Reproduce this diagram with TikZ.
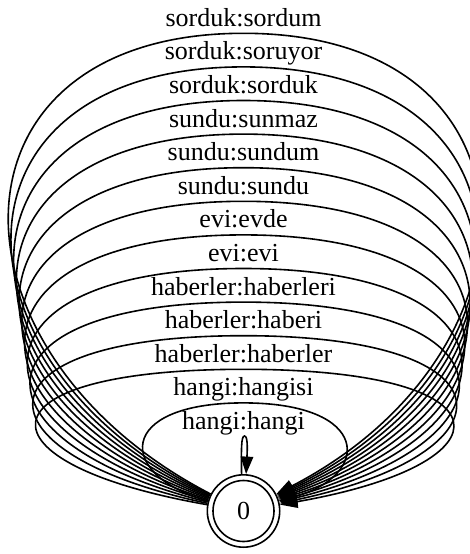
\documentclass[tikz,border=0pt]{standalone}
\usepackage{fontspec}
\setmainfont{Liberation Serif}
\usetikzlibrary{arrows.meta}
\begin{document}
\begin{tikzpicture}[x=1pt,y=-1pt,
  edge/.style={line width=1.6pt,-{Triangle[length=17.5pt,width=12.5pt]}},
  lbl/.style={font=\fontsize{26}{30}\selectfont,anchor=base,inner sep=0pt},
  state/.style={circle,draw,line width=1.6pt,minimum size=72.4pt,inner sep=0pt,font=\fontsize{26}{30}\selectfont}]
\useasboundingbox (0,0) rectangle (470,554);
\node[state] (n0) at (243.5,511) {0};
\draw[line width=1.6pt] (n0.center) circle (30.5pt);
% big loops
\foreach \k/\w in {0/308,1/304.3,2/300.6,3/296.9,4/293.2,5/289.5,6/285.8,7/282.1,8/278.4,9/274.7,10/271,11/128}{
  \pgfmathsetmacro{\t}{33.3+33.6*\k}
  \pgfmathsetmacro{\h}{(511-\t)/3}
  \draw[edge] (n0) .. controls ({243.5-\w},{511-\h}) and ({243.5-\w},\t) .. (243.5,\t)
     .. controls ({243.5+\w},\t) and ({243.5+\w},{511-\h}) .. (n0);
}
% tiny loop
\draw[edge] (n0.93) .. controls (241.3,450) and (241,436) .. (244.5,436)
   .. controls (248,436) and (247.3,450) .. (n0.86);
% labels
\node[lbl] (l0) at (243.5,26.3) {sorduk:sordum};
\node[lbl] (l1) at (243.5,59.9) {sorduk:soruyor};
\node[lbl] (l2) at (243.5,93.5) {sorduk:sorduk};
\node[lbl] (l3) at (243.5,127.1) {sundu:sunmaz};
\node[lbl] (l4) at (243.5,160.7) {sundu:sundum};
\node[lbl] (l5) at (243.5,194.3) {sundu:sundu};
\node[lbl] (l6) at (243.5,227.9) {evi:evde};
\node[lbl] (l7) at (243.5,261.5) {evi:evi};
\node[lbl] (l8) at (243.5,295.1) {haberler:haberleri};
\node[lbl] (l9) at (243.5,328.7) {haberler:haberi};
\node[lbl] (l10) at (243.5,362.3) {haberler:haberler};
\node[lbl] (l11) at (243.5,395.9) {hangi:hangisi};
\node[lbl] (l12) at (243.5,429.5) {hangi:hangi};
\end{tikzpicture}
\end{document}
